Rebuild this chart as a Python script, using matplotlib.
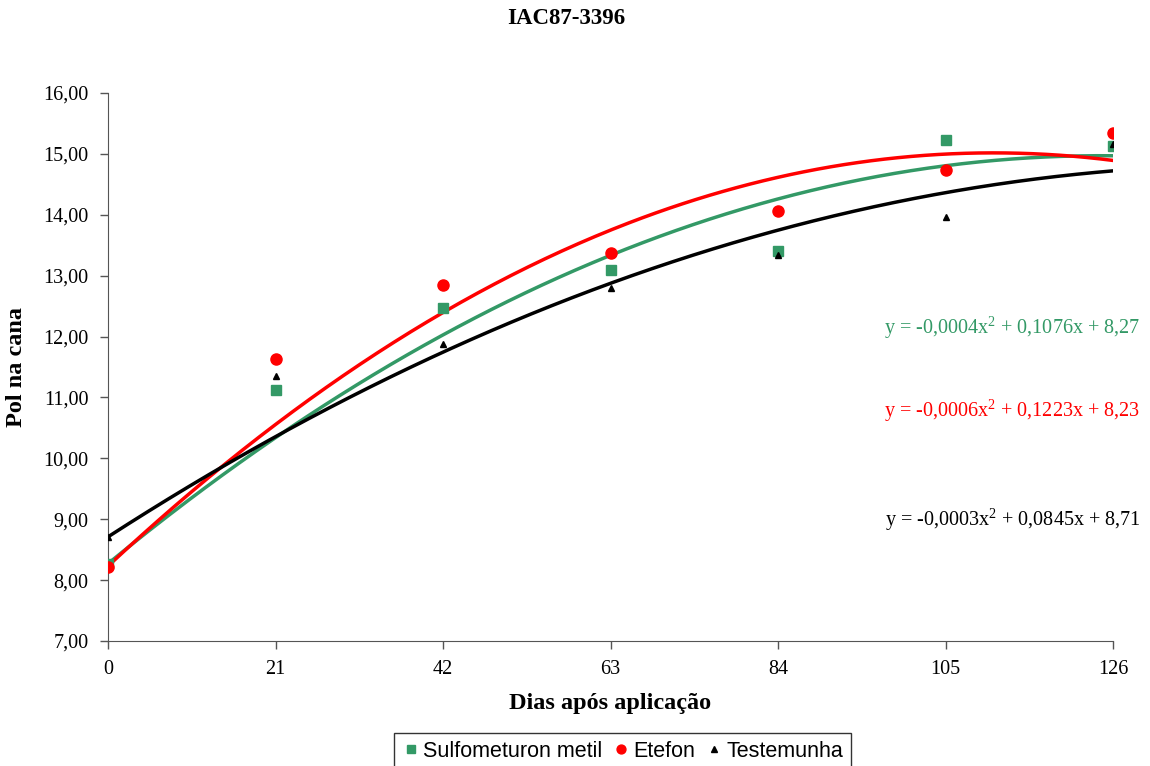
import matplotlib.pyplot as plt
import numpy as np

# Days after application and "Pol na cana" readings per treatment
dias = np.array([0, 21, 42, 63, 84, 105, 126])
sulfometuron = np.array([8.27, 11.12, 12.47, 13.09, 13.40, 15.23, 15.13])
etefon = np.array([8.22, 11.63, 12.85, 13.38, 14.06, 14.74, 15.34])
testemunha = np.array([8.71, 11.35, 11.88, 12.80, 13.34, 13.96, 15.16])

# quadratic trend coefficients (a, b, c) for y = a*x^2 + b*x + c
coef_sulf = [-0.000432, 0.1076, 8.27]
coef_etef = [-0.000551, 0.1223, 8.23]
coef_test = [-0.000292, 0.0845, 8.71]

eq_sulf = "y = -0,0004x$^2$ + 0,1076x + 8,27"
eq_etef = "y = -0,0006x$^2$ + 0,1223x + 8,23"
eq_test = "y = -0,0003x$^2$ + 0,0845x + 8,71"

verde = "#339966"
plt.rcParams["font.family"] = ["Liberation Serif", "DejaVu Serif"]
plt.rcParams["mathtext.fontset"] = "custom"
plt.rcParams["mathtext.rm"] = "Liberation Serif"

fig = plt.figure(figsize=(11.5, 7.66), dpi=100)
ax = fig.add_axes([0.0939, 0.1632, 0.874, 0.7154])

xs = np.linspace(0, 126, 300)
series = [
    (sulfometuron, coef_sulf, eq_sulf, verde, "s", 7, "Sulfometuron metil", 0.572),
    (etefon, coef_etef, eq_etef, "red", "o", 8, "Etefon", 0.42),
    (testemunha, coef_test, eq_test, "black", "^", 5, "Testemunha", 0.222),
]
for vals, coef, eq, cor, mk, ms, nome, ypos in series:
    ax.plot(dias, vals, linestyle="none", marker=mk, color=cor, markersize=ms, label=nome,
            zorder=3)
    ax.plot(xs, np.polyval(coef, xs), color=cor, linewidth=2.5)
    ax.text(1.027, ypos, eq, transform=ax.transAxes, color=cor, fontsize=14.5,
            ha="right", va="center")

ax.set_xlim(0, 126)
ax.set_ylim(7, 16)
ax.set_xticks(dias)
ax.set_yticks(np.arange(7, 17, 1))
ax.set_yticklabels([f"{v:.2f}".replace(".", ",") for v in np.arange(7, 17, 1)])
ax.tick_params(labelsize=14.5, direction="out", length=6, width=1, color="#555555", pad=8)
ax.spines["top"].set_visible(False)
ax.spines["right"].set_visible(False)
for s in ["left", "bottom"]:
    ax.spines[s].set_color("#555555")

ax.set_xlabel("Dias após aplicação", fontsize=17.5, fontweight="bold", labelpad=10)
ax.set_ylabel("Pol na cana", fontsize=17.5, fontweight="bold", labelpad=12)
fig.suptitle("IAC87-3396", fontsize=16.5, fontweight="bold", x=0.492, y=0.99)

leg = fig.legend(loc="upper center", bbox_to_anchor=(0.541, 0.043), ncol=3,
                 frameon=True, fancybox=False, edgecolor="black", handletextpad=0.1,
                 columnspacing=0.45, handlelength=0.9, borderpad=0.35, borderaxespad=0,
                 prop={"family": ["Liberation Sans", "DejaVu Sans"], "size": 15.5},
                 markerscale=0.8)
leg.get_frame().set_linewidth(1)

fig.savefig("out.png", dpi=100)
